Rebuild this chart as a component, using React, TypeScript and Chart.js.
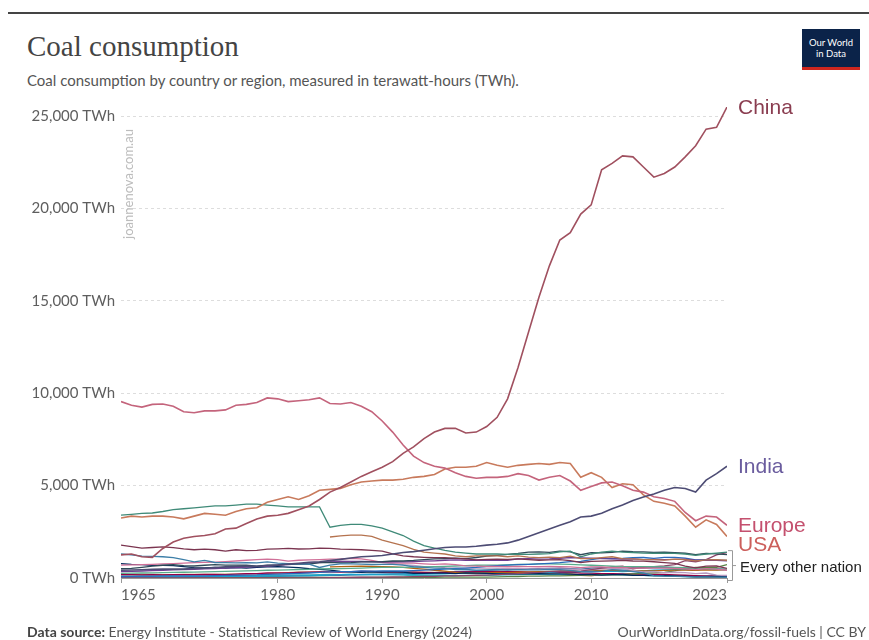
import React, { useEffect, useRef } from "react";
import { Chart, registerables } from "chart.js";
Chart.register(...registerables);

// ---------- DATA ----------
const years = [
  1965, 1966, 1967, 1968, 1969, 1970, 1971, 1972, 1973, 1974,
  1975, 1976, 1977, 1978, 1979, 1980, 1981, 1982, 1983, 1984,
  1985, 1986, 1987, 1988, 1989, 1990, 1991, 1992, 1993, 1994,
  1995, 1996, 1997, 1998, 1999, 2000, 2001, 2002, 2003, 2004,
  2005, 2006, 2007, 2008, 2009, 2010, 2011, 2012, 2013, 2014,
  2015, 2016, 2017, 2018, 2019, 2020, 2021, 2022, 2023,
];

const xTickYears = [1965, 1980, 1990, 2000, 2010, 2023];
const yTickValues = [0, 5000, 10000, 15000, 20000, 25000];

const china = [
  1250, 1300, 1150, 1120, 1600, 1950, 2150, 2250, 2300, 2400,
  2650, 2700, 2950, 3200, 3350, 3400, 3500, 3700, 3900, 4250,
  4650, 4900, 5200, 5500, 5750, 6000, 6300, 6750, 7100, 7550,
  7900, 8100, 8100, 7850, 7900, 8200, 8700, 9700, 11400, 13300,
  15200, 16900, 18300, 18700, 19700, 20200, 22100, 22450, 22850, 22800,
  22250, 21700, 21900, 22250, 22800, 23400, 24300, 24400, 25500,
];
const europe = [
  9550, 9350, 9250, 9400, 9420, 9300, 9000, 8950, 9050, 9050,
  9100, 9350, 9400, 9500, 9750, 9700, 9550, 9600, 9650, 9750,
  9450, 9420, 9500, 9300, 9000, 8500, 7900, 7200, 6600, 6250,
  6050, 5950, 5700, 5500, 5400, 5450, 5450, 5500, 5650, 5550,
  5300, 5450, 5550, 5250, 4750, 4950, 5150, 5200, 5000, 4750,
  4650, 4400, 4300, 4150, 3550, 3100, 3350, 3300, 2850,
];
const usa = [
  3250, 3350, 3300, 3350, 3350, 3300, 3200, 3350, 3500, 3450,
  3400, 3600, 3750, 3800, 4100, 4250, 4400, 4250, 4450, 4750,
  4800, 4850, 5050, 5200, 5250, 5300, 5300, 5350, 5450, 5500,
  5600, 5900, 6000, 6000, 6050, 6250, 6100, 6000, 6100, 6150,
  6200, 6150, 6250, 6200, 5450, 5700, 5450, 4900, 5100, 5050,
  4500, 4150, 4050, 3900, 3350, 2750, 3150, 2900, 2250,
];
const india = [
  420, 430, 450, 470, 490, 480, 480, 520, 530, 560,
  600, 640, 650, 640, 680, 700, 760, 800, 850, 880,
  940, 1010, 1080, 1150, 1180, 1220, 1300, 1380, 1430, 1500,
  1580, 1650, 1680, 1680, 1720, 1780, 1830, 1900, 2050, 2250,
  2450, 2650, 2850, 3050, 3300, 3350, 3500, 3750, 3950, 4200,
  4380, 4550, 4750, 4900, 4850, 4650, 5300, 5650, 6050,
];

// every other nation
const cis = [
  3400, 3450, 3500, 3520, 3600, 3700, 3750, 3800, 3850, 3900,
  3900, 3950, 4000, 4000, 3950, 3900, 3850, 3850, 3850, 3850,
  2750, 2850, 2900, 2900, 2820, 2700, 2500, 2300, 2000, 1750,
  1620, 1500, 1400, 1350, 1300, 1300, 1300, 1280, 1300, 1280,
  1300, 1320, 1420, 1450, 1150, 1300, 1400, 1450, 1400, 1380,
  1350, 1340, 1350, 1330, 1300, 1230, 1300, 1350, 1400,
];
const russia = [
  null, null, null, null, null, null, null, null, null, null,
  null, null, null, null, null, null, null, null, null, null,
  2220, 2280, 2320, 2320, 2250, 2050, 1900, 1750, 1550, 1400,
  1350, 1300, 1200, 1150, 1200, 1200, 1200, 1150, 1200, 1130,
  1100, 1130, 1100, 1180, 1050, 1050, 1100, 1150, 1050, 1030,
  1000, 1000, 970, 1020, 990, 930, 980, 1000, 960,
];
const germany = [
  1780, 1700, 1620, 1650, 1680, 1650, 1580, 1530, 1560, 1530,
  1450, 1530, 1480, 1500, 1560, 1580, 1600, 1570, 1580, 1620,
  1600, 1560, 1550, 1530, 1500, 1450, 1300, 1200, 1150, 1120,
  1100, 1100, 1060, 1030, 980, 1010, 1020, 1010, 1030, 1000,
  960, 980, 1000, 940, 840, 900, 910, 930, 950, 920,
  910, 880, 830, 790, 640, 550, 640, 650, 520,
];
const uk = [
  1300, 1250, 1180, 1170, 1150, 1100, 990, 870, 950, 840,
  830, 820, 830, 820, 870, 800, 780, 760, 750, 570,
  700, 760, 770, 750, 730, 740, 740, 700, 610, 570,
  540, 520, 460, 470, 420, 440, 470, 430, 450, 440,
  440, 470, 450, 410, 340, 360, 360, 450, 420, 340,
  270, 130, 100, 90, 70, 55, 55, 50, 40,
];
const japan = [
  500, 520, 580, 640, 690, 720, 670, 650, 690, 720,
  700, 700, 690, 640, 700, 700, 750, 760, 750, 830,
  850, 820, 830, 870, 870, 880, 920, 920, 950, 1000,
  1030, 1050, 1080, 1050, 1110, 1190, 1230, 1280, 1330, 1400,
  1410, 1390, 1450, 1420, 1260, 1370, 1360, 1390, 1450, 1420,
  1410, 1380, 1400, 1370, 1340, 1270, 1330, 1310, 1260,
];
const southAfrica = [
  350, 360, 380, 400, 420, 440, 460, 470, 490, 510,
  530, 560, 590, 620, 650, 690, 720, 760, 800, 830,
  870, 880, 880, 900, 890, 880, 880, 870, 890, 910,
  930, 960, 980, 960, 960, 970, 960, 960, 1030, 1050,
  1020, 1030, 1070, 1110, 1090, 1080, 1050, 1040, 1030, 1040,
  1000, 1010, 1000, 1010, 1020, 970, 960, 950, 930,
];
const poland = [
  700, 710, 720, 740, 760, 780, 800, 830, 850, 860,
  890, 920, 960, 990, 1020, 1000, 910, 960, 980, 1000,
  1020, 1030, 1060, 1030, 960, 840, 820, 800, 810, 770,
  740, 760, 720, 660, 640, 630, 630, 610, 630, 620,
  610, 630, 610, 600, 560, 600, 600, 560, 580, 540,
  530, 540, 540, 520, 490, 450, 510, 480, 420,
];
const southKorea = [
  80, 90, 100, 100, 110, 110, 110, 110, 120, 130,
  140, 150, 160, 170, 200, 210, 230, 250, 270, 300,
  330, 350, 350, 380, 370, 390, 380, 380, 400, 430,
  450, 480, 520, 540, 570, 630, 670, 700, 720, 740,
  760, 790, 830, 890, 900, 1000, 1080, 1050, 1060, 1100,
  1110, 1060, 1120, 1120, 1080, 980, 1000, 960, 950,
];
const australia = [
  250, 260, 270, 280, 290, 300, 310, 320, 330, 340,
  360, 370, 390, 400, 420, 430, 440, 460, 470, 490,
  500, 510, 520, 540, 560, 570, 570, 580, 590, 600,
  620, 630, 650, 670, 690, 700, 700, 710, 730, 740,
  760, 760, 750, 740, 710, 690, 670, 640, 610, 620,
  620, 610, 600, 580, 560, 520, 510, 490, 460,
];
const indonesia = [
  3, 3, 3, 3, 3, 3, 3, 3, 3, 3,
  3, 3, 3, 4, 5, 5, 6, 6, 7, 10,
  14, 20, 30, 40, 45, 45, 55, 60, 70, 80,
  90, 110, 120, 130, 150, 160, 180, 210, 240, 270,
  300, 350, 380, 340, 370, 450, 530, 600, 640, 500,
  580, 620, 660, 720, 940, 880, 1000, 1250, 1380,
];
const france = [
  780, 740, 720, 690, 680, 670, 620, 560, 550, 570,
  530, 560, 540, 570, 600, 620, 590, 560, 500, 470,
  430, 360, 330, 300, 330, 320, 340, 320, 250, 250,
  260, 260, 240, 280, 260, 250, 220, 220, 230, 230,
  240, 220, 220, 210, 180, 190, 160, 180, 190, 140,
  140, 130, 130, 110, 90, 70, 80, 80, 60,
];
const ukraine = [
  null, null, null, null, null, null, null, null, null, null,
  null, null, null, null, null, null, null, null, null, null,
  900, 920, 910, 890, 870, 850, 780, 720, 680, 620,
  620, 560, 530, 530, 540, 530, 530, 510, 520, 490,
  480, 490, 480, 480, 440, 450, 490, 500, 490, 410,
  330, 350, 290, 310, 290, 240, 270, 150, 140,
];
const kazakhstan = [
  null, null, null, null, null, null, null, null, null, null,
  null, null, null, null, null, null, null, null, null, null,
  600, 620, 630, 640, 630, 610, 600, 570, 520, 480,
  420, 370, 300, 270, 260, 280, 300, 290, 310, 320,
  350, 360, 370, 400, 350, 390, 410, 420, 400, 400,
  380, 390, 410, 430, 430, 420, 440, 430, 450,
];
const turkey = [
  50, 55, 55, 60, 60, 65, 65, 70, 70, 75,
  80, 85, 90, 95, 100, 100, 110, 120, 130, 140,
  160, 180, 190, 180, 190, 200, 210, 210, 200, 210,
  220, 230, 250, 260, 250, 270, 230, 240, 250, 260,
  270, 300, 340, 340, 340, 330, 360, 370, 350, 380,
  380, 420, 440, 450, 460, 440, 480, 460, 440,
];
const vietnam = [
  20, 20, 18, 15, 15, 15, 15, 16, 18, 20,
  22, 25, 25, 27, 27, 28, 28, 30, 30, 32,
  33, 35, 35, 37, 37, 30, 30, 32, 34, 36,
  40, 45, 50, 52, 48, 50, 60, 70, 80, 100,
  105, 110, 120, 130, 150, 170, 180, 180, 190, 220,
  260, 280, 300, 390, 510, 580, 570, 570, 720,
];
const canada = [
  180, 180, 170, 180, 170, 180, 180, 180, 190, 190,
  180, 210, 230, 240, 270, 280, 280, 300, 320, 330,
  330, 320, 340, 360, 360, 320, 330, 320, 320, 300,
  290, 300, 320, 330, 340, 350, 350, 340, 340, 320,
  320, 310, 320, 300, 270, 260, 240, 230, 220, 220,
  210, 200, 190, 170, 150, 130, 120, 110, 100,
];
const taiwan = [
  40, 40, 42, 45, 45, 45, 45, 45, 48, 50,
  50, 55, 60, 65, 75, 90, 100, 110, 120, 130,
  140, 150, 170, 190, 200, 210, 220, 240, 250, 270,
  290, 310, 340, 360, 380, 410, 430, 450, 470, 490,
  500, 520, 540, 510, 480, 530, 560, 550, 550, 560,
  540, 560, 570, 560, 530, 520, 540, 510, 470,
];
const spain = [
  190, 190, 200, 190, 180, 180, 190, 200, 190, 200,
  210, 210, 220, 230, 240, 260, 290, 310, 320, 330,
  340, 340, 330, 320, 330, 340, 330, 320, 310, 300,
  300, 260, 280, 270, 300, 310, 300, 320, 300, 320,
  300, 270, 300, 230, 150, 120, 200, 190, 180, 170,
  150, 170, 130, 140, 100, 60, 55, 55, 35,
];
const italy = [
  100, 100, 105, 105, 110, 110, 100, 95, 100, 110,
  100, 100, 110, 120, 130, 150, 160, 170, 170, 180,
  190, 180, 190, 180, 190, 170, 170, 160, 130, 130,
  140, 130, 130, 140, 140, 150, 160, 170, 180, 200,
  200, 200, 200, 190, 150, 160, 170, 180, 160, 150,
  140, 120, 110, 100, 70, 60, 60, 70, 50,
];

const labelledNames = ["China", "India", "Europe", "USA"];
const labelledValues = [china, india, europe, usa];
const otherNames = [
  "CIS", "Russia", "Germany", "United Kingdom", "Japan", "South Africa", "Poland",
  "South Korea", "Australia", "Indonesia", "France", "Ukraine", "Kazakhstan",
  "Turkey", "Vietnam", "Canada", "Taiwan", "Spain", "Italy",
];
const otherValues = [
  cis, russia, germany, uk, japan, southAfrica, poland, southKorea, australia,
  indonesia, france, ukraine, kazakhstan, turkey, vietnam, canada, taiwan, spain, italy,
];
const otherLabel = "Every other nation";

// ---------- STYLE ----------
const labelledLineColors = ["#a0505f", "#4d4c74", "#c4647c", "#c87a5c"];
const labelledTextColors = ["#8a3d50", "#6a5c9e", "#c4506e", "#cc5f5c"];
const otherColors = [
  "#3f8a78", "#b5734f", "#7b3550", "#3d7fa8", "#2f4a58", "#6d3e91", "#d07098",
  "#286bbb", "#58ac8c", "#8c4569", "#00295b", "#b89ac0", "#b16214", "#18a1cd",
  "#578145", "#970046", "#4c6a9c", "#bc8e5a", "#38aaba",
];

const toPoints = (vals: (number | null)[]) => years.map((yr, i) => ({ x: yr, y: vals[i] }));

export default function App() {
  const ref = useRef<HTMLCanvasElement>(null);

  useEffect(() => {
    const canvas = ref.current;
    if (!canvas) return;

    const datasets: any[] = [];
    labelledNames.forEach((n, i) =>
      datasets.push({
        label: n,
        data: toPoints(labelledValues[i]),
        borderColor: labelledLineColors[i],
        borderWidth: 1.6,
        pointRadius: 0,
        fill: false,
        spanGaps: false,
      })
    );
    otherNames.forEach((n, i) =>
      datasets.push({
        label: n,
        data: toPoints(otherValues[i]),
        borderColor: otherColors[i],
        borderWidth: 1.3,
        pointRadius: 0,
        fill: false,
        spanGaps: false,
      })
    );

    const endLabels = {
      id: "endLabels",
      afterDraw(chart: any) {
        const { ctx, chartArea, scales } = chart;
        const ys = scales.y;
        const xs = scales.x;
        ctx.save();
        // x tick labels with OWID-style edge alignment
        ctx.font = "15px Lato, sans-serif";
        ctx.fillStyle = "#5e5e5e";
        ctx.textBaseline = "middle";
        xTickYears.forEach((yr, i) => {
          const px = xs.getPixelForValue(yr);
          ctx.textAlign = i === 0 ? "left" : i === xTickYears.length - 1 ? "right" : "center";
          ctx.fillText(String(yr), px, chartArea.bottom + 17);
        });

        // series labels
        const items = labelledNames.map((name, i) => {
          const vals = labelledValues[i];
          return { name, color: labelledTextColors[i], y: ys.getPixelForValue(vals[vals.length - 1]) };
        });
        items.sort((a, b) => a.y - b.y);
        for (let i = 1; i < items.length; i++) {
          if (items[i].y < items[i - 1].y + 19) items[i].y = items[i - 1].y + 19;
        }
        const lx = chartArea.right + 11;
        ctx.textAlign = "left";
        ctx.font = "21px 'Liberation Sans', Arial, sans-serif";
        items.forEach((it) => {
          ctx.fillStyle = it.color;
          ctx.fillText(it.name, lx, it.y + 1);
        });

        // bracket for other nations
        let maxOther = 0;
        otherValues.forEach((v) => {
          const last = v[v.length - 1];
          if (last != null && last > maxOther) maxOther = last;
        });
        const top = ys.getPixelForValue(maxOther) - 2;
        const bottom = ys.getPixelForValue(0) + 2;
        const bx = chartArea.right + 5;
        const mid = (top + bottom) / 2;
        ctx.strokeStyle = "#999";
        ctx.lineWidth = 1;
        ctx.beginPath();
        ctx.moveTo(bx - 4, top + 0.5);
        ctx.lineTo(bx + 0.5, top + 0.5);
        ctx.lineTo(bx + 0.5, bottom + 0.5);
        ctx.lineTo(bx - 4, bottom + 0.5);
        ctx.moveTo(bx + 0.5, mid + 0.5);
        ctx.lineTo(bx + 4, mid + 0.5);
        ctx.stroke();
        ctx.fillStyle = "#222";
        ctx.font = "15px 'Liberation Sans', Arial, sans-serif";
        ctx.fillText(otherLabel, bx + 8, mid + 3);
        ctx.restore();
      },
    };

    const chart = new Chart(canvas, {
      type: "line",
      data: { datasets },
      options: {
        animation: false,
        responsive: false,
        devicePixelRatio: 1,
        layout: { padding: { left: 8, right: 142, top: 107, bottom: 38 } },
        plugins: { legend: { display: false }, tooltip: { enabled: false } },
        elements: { line: { tension: 0 } },
        scales: {
          x: {
            type: "linear",
            min: 1965,
            max: 2023,
            afterBuildTicks: (scale: any) => {
              scale.ticks = xTickYears.map((v) => ({ value: v }));
            },
            afterFit: (scale: any) => {
              scale.height = 24;
            },
            ticks: { display: false },
            grid: { drawOnChartArea: false, drawTicks: true, tickLength: 5, color: "#999" },
            border: { display: true, color: "#999" },
          },
          y: {
            type: "linear",
            min: 0,
            max: 25500,
            afterBuildTicks: (scale: any) => {
              scale.ticks = yTickValues.map((v) => ({ value: v }));
            },
            afterFit: (scale: any) => {
              scale.width = 113;
            },
            ticks: {
              padding: 6,
              color: "#5e5e5e",
              font: { family: "Lato", size: 15 },
              callback: (v: any) => Number(v).toLocaleString("en-US") + " TWh",
            },
            grid: { color: "#dddddd", drawTicks: false, lineWidth: 1 },
            border: { display: false, dash: [3, 3] },
          },
        },
      },
      plugins: [endLabels],
    } as any);

    return () => chart.destroy();
  }, []);

  return (
    <div
      style={{
        position: "fixed",
        left: 0,
        top: 0,
        width: 869,
        height: 640,
        background: "#fff",
        overflow: "hidden",
        fontFamily: "Lato, sans-serif",
      }}
    >
      <div style={{ position: "absolute", left: 8, top: 12, width: 861, height: 2, background: "#444" }} />
      <div
        style={{
          position: "absolute",
          left: 27,
          top: 29,
          fontFamily: "'Liberation Serif', serif",
          fontSize: 29,
          lineHeight: "34px",
          color: "#444",
          whiteSpace: "nowrap",
        }}
      >
        Coal consumption
      </div>
      <div
        style={{
          position: "absolute",
          left: 27,
          top: 71,
          fontSize: 15,
          lineHeight: "18px",
          color: "#555",
          whiteSpace: "nowrap",
        }}
      >
        Coal consumption by country or region, measured in terawatt-hours (TWh).
      </div>
      <div
        style={{
          position: "absolute",
          left: 802,
          top: 29,
          width: 58,
          height: 38,
          background: "#0b2349",
          borderBottom: "3px solid #ce261e",
          color: "#fff",
          fontSize: 9.5,
          lineHeight: "11px",
          textAlign: "center",
          display: "flex",
          flexDirection: "column",
          justifyContent: "center",
        }}
      >
        <div>Our World</div>
        <div>in Data</div>
      </div>
      <canvas ref={ref} width={869} height={640} style={{ position: "absolute", left: 0, top: 0 }} />
      <div
        style={{
          position: "absolute",
          left: 68,
          top: 177,
          width: 120,
          fontSize: 13,
          lineHeight: "14px",
          color: "#bcbcbc",
          textAlign: "center",
          transform: "rotate(-90deg)",
          transformOrigin: "center center",
          whiteSpace: "nowrap",
        }}
      >
        joannenova.com.au
      </div>
      <div
        style={{
          position: "absolute",
          left: 27,
          top: 623,
          fontSize: 14,
          lineHeight: "18px",
          color: "#555",
          whiteSpace: "nowrap",
        }}
      >
        <b style={{ color: "#444" }}>Data source:</b> Energy Institute - Statistical Review of World Energy (2024)
      </div>
      <div
        style={{
          position: "absolute",
          right: 3,
          top: 623,
          fontSize: 14,
          lineHeight: "18px",
          color: "#555",
          whiteSpace: "nowrap",
        }}
      >
        OurWorldInData.org/fossil-fuels | CC BY
      </div>
    </div>
  );
}
